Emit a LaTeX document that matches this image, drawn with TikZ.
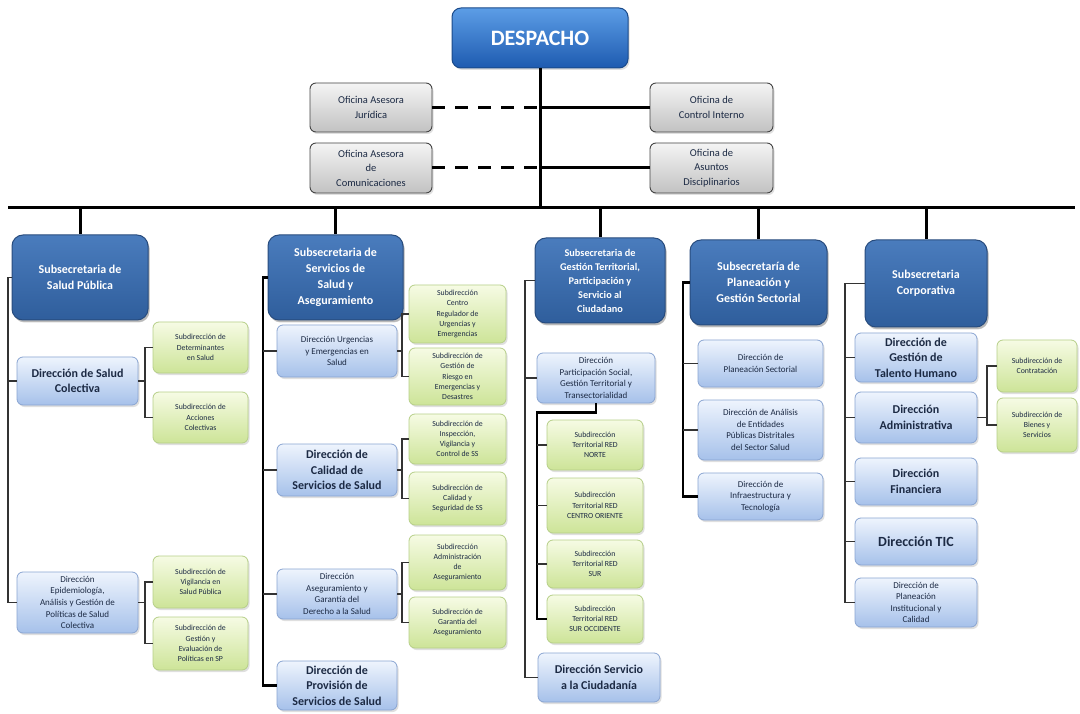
\documentclass[tikz,border=0pt]{standalone}
\usepackage{fontspec}
\setmainfont{Carlito}
\usetikzlibrary{shadows}
\definecolor{despT}{HTML}{5C9DE6}
\definecolor{despB}{HTML}{1E5BB0}
\definecolor{despD}{HTML}{1A4A8A}
\definecolor{subT}{HTML}{4A7CBD}
\definecolor{subB}{HTML}{2F5E9C}
\definecolor{subD}{HTML}{284C7E}
\definecolor{dirT}{HTML}{EEF4FD}
\definecolor{dirB}{HTML}{A6C1EA}
\definecolor{dirD}{HTML}{8AA5D2}
\definecolor{grnT}{HTML}{F6FBE4}
\definecolor{grnB}{HTML}{CDE498}
\definecolor{grnD}{HTML}{B6CF88}
\definecolor{ofiT}{HTML}{F4F4F4}
\definecolor{ofiB}{HTML}{C2C2C2}
\definecolor{ofiD}{HTML}{444444}
\definecolor{txtD}{HTML}{1C2A44}
\definecolor{lineG}{HTML}{333333}
\tikzset{
  box/.style={align=center, inner sep=1pt, rounded corners=6pt,
    drop shadow={opacity=0.25, shadow xshift=1.5pt, shadow yshift=-2pt}},
  despbox/.style={box, rounded corners=9pt, top color=despT, bottom color=despB,
    draw=despD, line width=1pt, text=white, font=\bfseries\fontsize{22}{25}\selectfont},
  ofibox/.style={box, top color=ofiT, bottom color=ofiB, draw=ofiD, line width=0.9pt,
    text=txtD, font=\fontsize{10.5}{14.5}\selectfont},
  subbox/.style={box, rounded corners=11pt, top color=subT, bottom color=subB,
    draw=subD, line width=1pt, text=white, font=\bfseries\fontsize{12}{16}\selectfont,
    drop shadow={opacity=0.4, shadow xshift=1.5pt, shadow yshift=-2.5pt}},
  dirbox/.style={box, top color=dirT, bottom color=dirB, draw=dirD, line width=0.8pt,
    text=txtD, font=\fontsize{9}{11.6}\selectfont},
  dirbold/.style={dirbox, font=\bfseries\fontsize{12}{15.5}\selectfont},
  grnbox/.style={box, top color=grnT, bottom color=grnB, draw=grnD, line width=0.8pt,
    text=txtD, font=\fontsize{7.8}{10.2}\selectfont},
  mainline/.style={line width=3pt, black},
  dashline/.style={line width=3pt, black, dash pattern=on 13pt off 10pt},
  colline/.style={line width=1.4pt, lineG},
  colthick/.style={line width=2.2pt, black},
}
\begin{document}
\begin{tikzpicture}[x=1pt, y=-1pt]
\useasboundingbox[fill=white] (0,0) rectangle (1080,714);

% ---------- top ----------
\node[despbox, minimum width=176, minimum height=60] (desp) at (540,38) {DESPACHO};
\node[ofibox, minimum width=122, minimum height=49] (ofj) at (371,107.5) {Oficina Asesora\\Jurídica};
\node[ofibox, minimum width=122, minimum height=50] (ofc) at (371,168) {Oficina Asesora\\de\\Comunicaciones};
\node[ofibox, minimum width=123, minimum height=49] (oci) at (711.5,107.5) {Oficina de\\Control Interno};
\node[ofibox, minimum width=123, minimum height=50] (oad) at (711.5,168) {Oficina de\\Asuntos\\Disciplinarios};

\coordinate (busL) at (8,208);
\coordinate (busR) at (1075,208);

% ---------- subsecretarias ----------
\node[subbox, minimum width=136, minimum height=85] (s1) at (80,277.5) {Subsecretaria de\\Salud Pública};
\node[subbox, minimum width=135, minimum height=85] (s2) at (335.5,277.5) {Subsecretaria de\\Servicios de\\Salud y\\Aseguramiento};
\node[subbox, minimum width=130, minimum height=85, font=\bfseries\fontsize{10.3}{14}\selectfont] (s3) at (600,280.5) {Subsecretaria de\\Gestión Territorial,\\Participación y\\Servicio al\\Ciudadano};
\node[subbox, minimum width=137, minimum height=85] (s4) at (758.5,282.5) {Subsecretaría de\\Planeación y\\Gestión Sectorial};
\node[subbox, minimum width=122, minimum height=87] (s5) at (926,283.5) {Subsecretaria\\Corporativa};

% ---------- column 1 ----------
\node[dirbold, minimum width=121, minimum height=48] (d11) at (77.5,381) {Dirección de Salud\\Colectiva};
\node[dirbox, minimum width=121, minimum height=61] (d12) at (77.5,602.5) {Dirección\\Epidemiología,\\Análisis y Gestión de\\Políticas de Salud\\Colectiva};
\node[grnbox, minimum width=95, minimum height=51] (g11) at (200.5,347.5) {Subdirección de\\Determinantes\\en Salud};
\node[grnbox, minimum width=95, minimum height=51] (g12) at (200.5,417.5) {Subdirección de\\Acciones\\Colectivas};
\node[grnbox, minimum width=95, minimum height=52] (g13) at (200.5,582) {Subdirección de\\Vigilancia en\\Salud Pública};
\node[grnbox, minimum width=95, minimum height=53] (g14) at (200.5,643.5) {Subdirección de\\Gestión y\\Evaluación de\\Políticas en SP};

% ---------- column 2 ----------
\node[dirbox, minimum width=120, minimum height=52] (d21) at (337,351) {Dirección Urgencias\\y Emergencias en\\Salud};
\node[dirbold, minimum width=120, minimum height=52] (d22) at (337,470) {Dirección de\\Calidad de\\Servicios de Salud};
\node[dirbox, minimum width=120, minimum height=50] (d23) at (337,594) {Dirección\\Aseguramiento y\\Garantía del\\Derecho a la Salud};
\node[dirbold, minimum width=120, minimum height=49] (d24) at (337,685.5) {Dirección de\\Provisión de\\Servicios de Salud};
\node[grnbox, minimum width=97, minimum height=58] (g21) at (457.5,314) {Subdirección\\Centro\\Regulador de\\Urgencias y\\Emergencias};
\node[grnbox, minimum width=97, minimum height=57] (g22) at (457.5,376.5) {Subdirección de\\Gestión de\\Riesgo en\\Emergencias y\\Desastres};
\node[grnbox, minimum width=97, minimum height=50] (g23) at (457.5,439) {Subdirección de\\Inspección,\\Vigilancia y\\Control de SS};
\node[grnbox, minimum width=97, minimum height=53] (g24) at (457.5,498.5) {Subdirección de\\Calidad y\\Seguridad de SS};
\node[grnbox, minimum width=97, minimum height=55] (g25) at (457.5,562.5) {Subdirección\\Administración\\de\\Aseguramiento};
\node[grnbox, minimum width=97, minimum height=51] (g26) at (457.5,622.5) {Subdirección de\\Garantía del\\Aseguramiento};

% ---------- column 3 ----------
\node[dirbox, minimum width=118, minimum height=50] (d31) at (596,378) {Dirección\\Participación Social,\\Gestión Territorial y\\Transectorialidad};
\node[grnbox, minimum width=96, minimum height=50] (g31) at (595,445) {Subdirección\\Territorial RED\\NORTE};
\node[grnbox, minimum width=96, minimum height=55] (g32) at (595,505.5) {Subdirección\\Territorial RED\\CENTRO ORIENTE};
\node[grnbox, minimum width=96, minimum height=48] (g33) at (595,564) {Subdirección\\Territorial RED\\SUR};
\node[grnbox, minimum width=96, minimum height=48] (g34) at (595,619) {Subdirección\\Territorial RED\\SUR OCCIDENTE};
\node[dirbold, minimum width=122, minimum height=49] (d32) at (599,677.5) {Dirección Servicio\\a la Ciudadanía};

% ---------- column 4 ----------
\node[dirbox, minimum width=125, minimum height=47] (d41) at (760.5,363.5) {Dirección de\\Planeación Sectorial};
\node[dirbox, minimum width=125, minimum height=60] (d42) at (760.5,430) {Dirección de Análisis\\de Entidades\\Públicas Distritales\\del Sector Salud};
\node[dirbox, minimum width=125, minimum height=47] (d43) at (760.5,496.5) {Dirección de\\Infraestructura y\\Tecnología};

% ---------- column 5 ----------
\node[dirbold, minimum width=122, minimum height=49] (d51) at (916,357.5) {Dirección de\\Gestión de\\Talento Humano};
\node[dirbold, minimum width=122, minimum height=51] (d52) at (916,417.5) {Dirección\\Administrativa};
\node[dirbold, minimum width=122, minimum height=47] (d53) at (916,481.5) {Dirección\\Financiera};
\node[dirbold, minimum width=122, minimum height=47, font=\bfseries\fontsize{14}{17}\selectfont] (d54) at (916,541.5) {Dirección TIC};
\node[dirbox, minimum width=122, minimum height=49] (d55) at (916,602.5) {Dirección de\\Planeación\\Institucional y\\Calidad};
\node[grnbox, minimum width=80, minimum height=52] (g51) at (1037,366) {Subdirección de\\Contratación};
\node[grnbox, minimum width=80, minimum height=54] (g52) at (1037,425) {Subdirección de\\Bienes y\\Servicios};

% ---------- connectors: top ----------
\draw[mainline] (desp.south) -- (desp.south |- busL);
\draw[mainline] (busL) -- (busR);
\draw[dashline] (ofj.east) -- (ofj.east -| desp.south);
\draw[dashline] (ofc.east) -- (ofc.east -| desp.south);
\draw[mainline] (oci.west -| desp.south) -- (oci.west);
\draw[mainline] (oad.west -| desp.south) -- (oad.west);
\foreach \s in {s1,s2,s3,s4,s5}{
  \draw[mainline] (\s.north |- busL) -- (\s.north);
}

% column coordinates
\coordinate (l1) at (8,0);
\coordinate (k1) at (145,0);
\coordinate (l2) at (263,0);
\coordinate (k2) at (402,0);
\coordinate (l3) at (525,0);
\coordinate (m3) at (537,0);
\coordinate (l4) at (683,0);
\coordinate (l5) at (845,0);
\coordinate (k5) at (987,0);

% ---------- column 1 ----------
\draw[colline] (s1.west) -- (s1.west -| l1) -- (l1 |- d12.west) -- (d12.west);
\draw[colline] (l1 |- d11.west) -- (d11.west);
\draw[colline] (d11.east) -- (d11.east -| k1);
\draw[colline] (g11.west) -- (g11.west -| k1) -- (k1 |- g12.west) -- (g12.west);
\draw[colline] (d12.east) -- (d12.east -| k1);
\draw[colline] (g13.west) -- (g13.west -| k1) -- (k1 |- g14.west) -- (g14.west);

% ---------- column 2 ----------
\draw[colthick] (s2.west) -- (s2.west -| l2) -- (l2 |- d24.west) -- (d24.west);
\foreach \d in {d21,d22,d23}{
  \draw[colline] (l2 |- \d.west) -- (\d.west);
}
\draw[colline] (d21.east) -- (d21.east -| k2);
\draw[colline] (g21.west) -- (g21.west -| k2) -- (k2 |- g22.west) -- (g22.west);
\draw[colline] (d22.east) -- (d22.east -| k2);
\draw[colline] (g23.west) -- (g23.west -| k2) -- (k2 |- g24.west) -- (g24.west);
\draw[colline] (d23.east) -- (d23.east -| k2);
\draw[colline] (g25.west) -- (g25.west -| k2) -- (k2 |- g26.west) -- (g26.west);

% ---------- column 3 ----------
\draw[colline] (s3.west) -- (s3.west -| l3) -- (l3 |- d32.west) -- (d32.west);
\draw[colline] (l3 |- d31.west) -- (d31.west);
\draw[colthick] (d31.south) -- ++(0,9) -| (m3 |- g34.west) -- (g34.west);
\foreach \g in {g31,g32,g33}{
  \draw[colline] (m3 |- \g.west) -- (\g.west);
}

% ---------- column 4 ----------
\draw[colthick] (s4.west) -- (s4.west -| l4) -- (l4 |- d43.west) -- (d43.west);
\foreach \d in {d41,d42}{
  \draw[colline] (l4 |- \d.west) -- (\d.west);
}

% ---------- column 5 ----------
\draw[colline] (s5.west) -- (s5.west -| l5) -- (l5 |- d55.west) -- (d55.west);
\foreach \d in {d51,d52,d53,d54}{
  \draw[colline] (l5 |- \d.west) -- (\d.west);
}
\draw[colline] (d52.east) -- (d52.east -| k5);
\draw[colline] (g51.west) -- (g51.west -| k5) -- (k5 |- g52.west) -- (g52.west);
\end{tikzpicture}
\end{document}
